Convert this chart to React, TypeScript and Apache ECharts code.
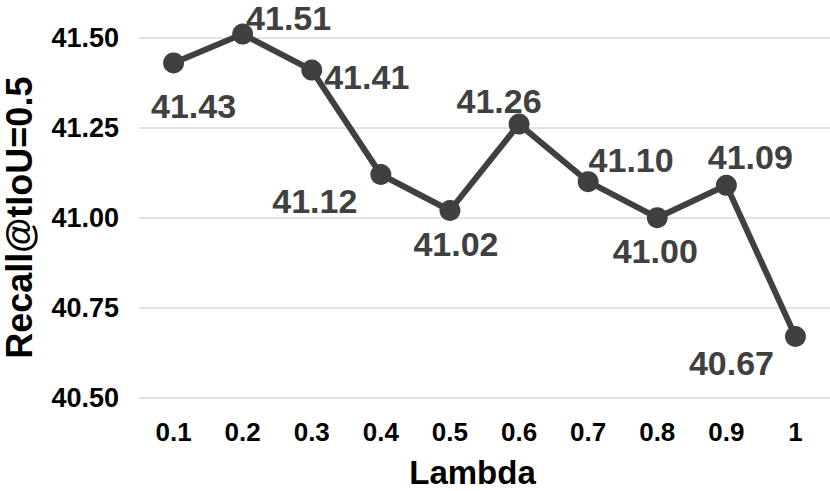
import React, { useEffect, useRef } from "react";
import * as echarts from "echarts";

const categories = ["0.1", "0.2", "0.3", "0.4", "0.5", "0.6", "0.7", "0.8", "0.9", "1"];
const recall = [41.43, 41.51, 41.41, 41.12, 41.02, 41.26, 41.1, 41.0, 41.09, 40.67];
const yTicks = { min: 40.5, max: 41.5, interval: 0.25 };

// label offsets (style): [dx, dy] from each point
const labelOffsets: [number, number][] = [
  [20, 43], [46, -16], [55, 7], [-66, 26], [6, 33],
  [-20, -23], [43, -22], [-2, 33], [24, -28], [-64, 26],
];

const FONT = "'Liberation Sans', Arial, sans-serif";

export default function App() {
  const ref = useRef<HTMLDivElement>(null);
  useEffect(() => {
    if (!ref.current) return;
    const chart = echarts.init(ref.current, null, { renderer: "svg" });
    chart.setOption({
      animation: false,
      grid: {
        left: 139, right: 0, top: 37.7, bottom: 93.3,
        containLabel: false,
        outerBoundsMode: "none",
      },
      xAxis: {
        type: "category",
        data: categories,
        boundaryGap: true,
        axisLine: { show: false },
        axisTick: { show: false },
        axisLabel: { color: "#000", fontFamily: FONT, fontWeight: "bold", fontSize: 26, margin: 21 },
        name: "Lambda",
        nameLocation: "middle",
        nameGap: 58,
        nameTextStyle: {
          color: "#000", fontFamily: FONT, fontWeight: "bold", fontSize: 33,
          padding: [0, 24, 0, 0],
        },
      },
      yAxis: {
        type: "value",
        min: yTicks.min,
        max: yTicks.max,
        interval: yTicks.interval,
        axisLine: { show: false },
        axisTick: { show: false },
        splitLine: { lineStyle: { color: "#d9d9d9", width: 1.5 } },
        axisLabel: {
          color: "#000", fontFamily: FONT, fontWeight: "bold", fontSize: 27, margin: 20,
          formatter: (v: number) => v.toFixed(2),
        },
        name: "Recall@tIoU=0.5",
        nameLocation: "middle",
        nameRotate: 90,
        nameGap: 102,
        nameTextStyle: { color: "#000", fontFamily: FONT, fontWeight: "bold", fontSize: 36 },
      },
      series: [
        {
          type: "line",
          clip: false,
          data: recall.map((v, i) => ({
            value: v,
            label: { offset: labelOffsets[i] },
          })),
          lineStyle: { color: "#404040", width: 6 },
          itemStyle: { color: "#404040" },
          symbol: "circle",
          symbolSize: 21,
          label: {
            show: true,
            position: "inside",
            align: "center",
            verticalAlign: "middle",
            color: "#404040",
            fontFamily: FONT,
            fontWeight: "bold",
            fontSize: 34,
            formatter: (p: any) => Number(p.value).toFixed(2),
          },
        },
      ],
    });
    return () => chart.dispose();
  }, []);
  return <div ref={ref} style={{ width: 830, height: 491, position: "absolute", left: 0, top: 0 }} />;
}
